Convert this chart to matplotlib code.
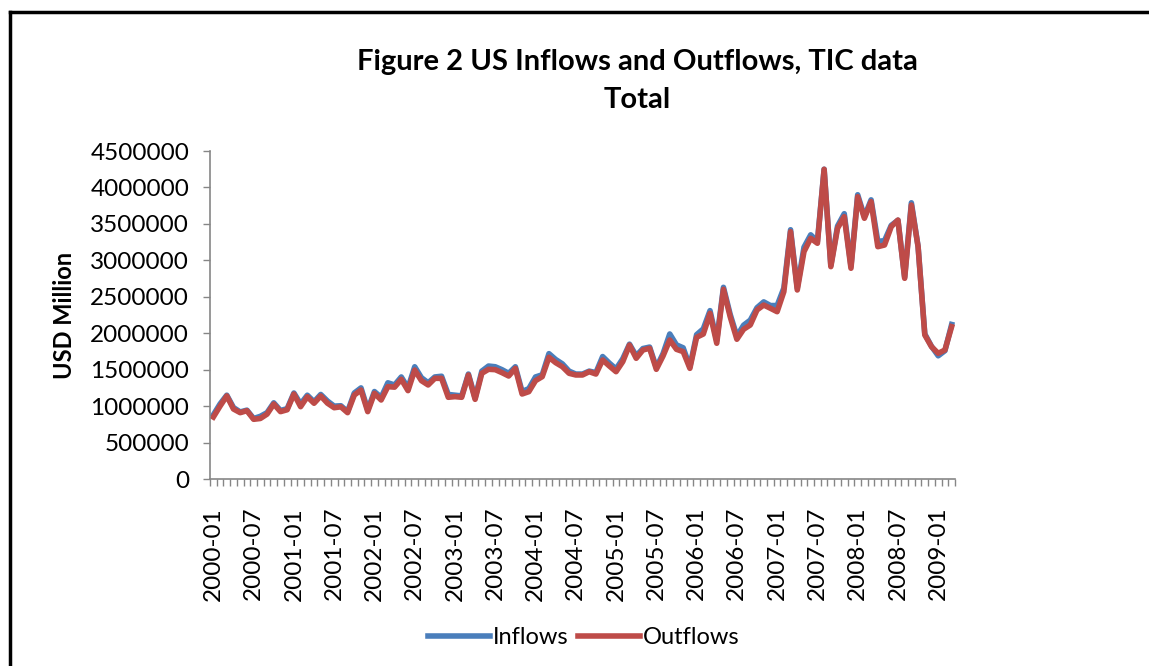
import numpy as np
import matplotlib
matplotlib.use("Agg")
import matplotlib.pyplot as plt
from matplotlib.lines import Line2D

# Monthly TIC totals, USD million, 2000-01 .. 2009-03
months = [f"{y}-{m:02d}" for y in range(2000, 2010) for m in range(1, 13)][:111]

inflows = [
    880, 1030, 1150, 980, 920, 945, 830, 860, 910, 1045, 940, 965,
    1180, 1030, 1150, 1060, 1160, 1070, 1000, 1005, 925, 1180, 1250, 950,
    1200, 1120, 1320, 1290, 1400, 1250, 1540, 1390, 1320, 1400, 1410, 1160,
    1150, 1140, 1440, 1110, 1480, 1550, 1540, 1500, 1450, 1540, 1200, 1240,
    1400, 1430, 1720, 1640, 1580, 1480, 1440, 1440, 1480, 1460, 1680, 1590,
    1510, 1650, 1850, 1690, 1790, 1810, 1530, 1720, 1990, 1840, 1800, 1540,
    1980, 2060, 2310, 1900, 2630, 2260, 1960, 2110, 2180, 2350, 2430, 2380,
    2380, 2620, 3420, 2620, 3180, 3350, 3260, 4250, 2930, 3470, 3640, 2920,
    3900, 3600, 3830, 3260, 3270, 3480, 3550, 2770, 3790, 3190, 1990, 1820,
    1690, 1760, 2120,
]
outflows = [
    850, 1000, 1140, 960, 910, 937, 819, 830, 890, 1029, 924, 950,
    1166, 992, 1129, 1039, 1139, 1040, 978, 990, 910, 1152, 1221, 924,
    1176, 1084, 1267, 1260, 1368, 1212, 1495, 1349, 1290, 1381, 1381, 1121,
    1130, 1121, 1427, 1093, 1450, 1505, 1500, 1459, 1413, 1518, 1166, 1198,
    1349, 1404, 1670, 1596, 1541, 1450, 1427, 1427, 1472, 1440, 1633, 1550,
    1472, 1610, 1838, 1656, 1770, 1793, 1505, 1688, 1907, 1779, 1747, 1518,
    1944, 1989, 2273, 1862, 2603, 2227, 1917, 2054, 2113, 2319, 2387, 2342,
    2295, 2570, 3393, 2593, 3119, 3302, 3234, 4249, 2913, 3440, 3599, 2891,
    3873, 3577, 3805, 3187, 3210, 3462, 3553, 2753, 3759, 3187, 1976, 1815,
    1724, 1770, 2090,
]
inflows = np.array(inflows) * 1000
outflows = np.array(outflows) * 1000

plt.rcParams["font.family"] = ["Lato", "DejaVu Sans"]

fig = plt.figure(figsize=(11.49, 6.66), dpi=100)

# outer chart frame: only top and left edges are inside the screenshot
fx, fy = 10 / 1149, 1 - 12 / 666
fig.add_artist(Line2D([fx, 1.0], [fy, fy], transform=fig.transFigure,
                      color="black", lw=2.5))
fig.add_artist(Line2D([fx, fx], [0.0, fy], transform=fig.transFigure,
                      color="black", lw=2.5))

ax = fig.add_axes([210 / 1149, 1 - 479 / 666, 745 / 1149, 328 / 666])
x = np.arange(len(months))
ax.plot(x, inflows, color="#4a7ebb", lw=4, label="Inflows", solid_joinstyle="round")
ax.plot(x, outflows, color="#be4b48", lw=4, label="Outflows", solid_joinstyle="round")

ax.set_xlim(-0.5, len(months) - 0.5)
ax.set_ylim(0, 4500000)
ax.set_yticks(np.arange(0, 4500001, 500000))
ax.set_yticklabels([str(v) for v in range(0, 4500001, 500000)])

ax.set_xticks(x[::6])
ax.set_xticklabels(months[::6], rotation=90)
ax.set_xticks(np.arange(-0.5, len(months), 1), minor=True)
ax.tick_params(axis="x", which="major", length=0, pad=20, labelsize=17.5, colors="black")
ax.tick_params(axis="x", which="minor", length=5, color="#868686", width=1)
ax.tick_params(axis="y", length=5, color="#868686", width=1, pad=10, labelsize=17.5)

for s in ["top", "right"]:
    ax.spines[s].set_visible(False)
for s in ["left", "bottom"]:
    ax.spines[s].set_color("#868686")
    ax.spines[s].set_linewidth(1.2)

ax.set_ylabel("USD Million", fontsize=17, fontweight="bold", labelpad=10)

fig.text(637 / 1149, 1 - 62 / 666, "Figure 2 US Inflows and Outflows, TIC data",
         ha="center", va="center", fontsize=21, fontweight="bold")
fig.text(637 / 1149, 1 - 100 / 666, "Total",
         ha="center", va="center", fontsize=21, fontweight="bold")

fig.legend(loc="center", bbox_to_anchor=(584 / 1149, 1 - 638 / 666), ncol=2,
           frameon=False, fontsize=17, handlelength=2.6, handletextpad=0.15,
           columnspacing=0.4)

fig.savefig("out.png", dpi=100)
